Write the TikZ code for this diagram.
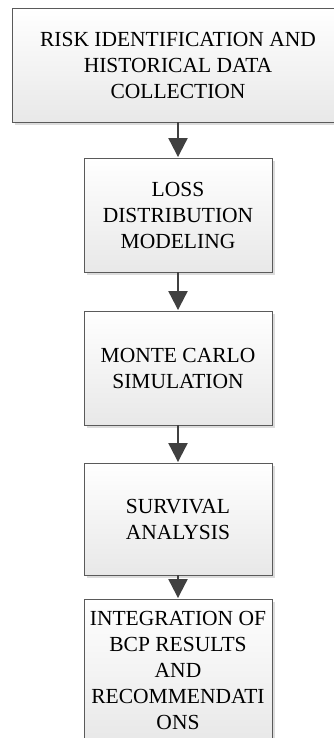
\documentclass[tikz,border=0pt]{standalone}
\usepackage{fontspec}
\setmainfont{Liberation Serif}
\usetikzlibrary{arrows.meta,shadings}
\definecolor{edge}{HTML}{5A5A5A}
\definecolor{arr}{HTML}{404040}
\definecolor{shad}{HTML}{DCDCDC}
\tikzset{
  stepbox/.style={draw=edge, line width=0.9pt, top color=white, bottom color=black!9,
    rectangle, inner sep=0pt, align=center,
    font=\fontsize{21.5pt}{26pt}\selectfont},
  shadowbox/.style={fill=shad, draw=none},
  flow/.style={draw=arr, line width=2.2pt, -{Triangle[length=19pt,width=19pt]}, shorten >=0.5pt}
}
\begin{document}
\begin{tikzpicture}[x=1pt,y=-1pt]
\useasboundingbox (0,0) rectangle (334,738);
\clip (0,0) rectangle (334,738);
% shadows
\fill[shadowbox] (15,11) rectangle (350,125);
\fill[shadowbox] (87,161) rectangle (275,275);
\fill[shadowbox] (87,314) rectangle (275,428);
\fill[shadowbox] (87,466) rectangle (275,578);
\fill[shadowbox] (87,602) rectangle (275,745);
% boxes
\node[stepbox, minimum width=332pt, minimum height=114pt] (b1) at (178,65)
  {RISK IDENTIFICATION AND\\HISTORICAL DATA\\COLLECTION};
\node[stepbox, minimum width=188pt, minimum height=114pt] (b2) at (178,215)
  {LOSS\\DISTRIBUTION\\MODELING};
\node[stepbox, minimum width=188pt, minimum height=114pt] (b3) at (178,368)
  {MONTE CARLO\\SIMULATION};
\node[stepbox, minimum width=188pt, minimum height=112pt] (b4) at (178,519)
  {SURVIVAL\\ANALYSIS};
\node[stepbox, minimum width=188pt, minimum height=142pt] (b5) at (178,670)
  {INTEGRATION OF\\BCP RESULTS\\AND\\RECOMMENDATI\\ONS};
% arrows
\draw[flow] (b1.south) -- (b2.north);
\draw[flow] (b2.south) -- (b3.north);
\draw[flow] (b3.south) -- (b4.north);
\draw[flow] (b4.south) -- (b5.north);
\end{tikzpicture}
\end{document}
